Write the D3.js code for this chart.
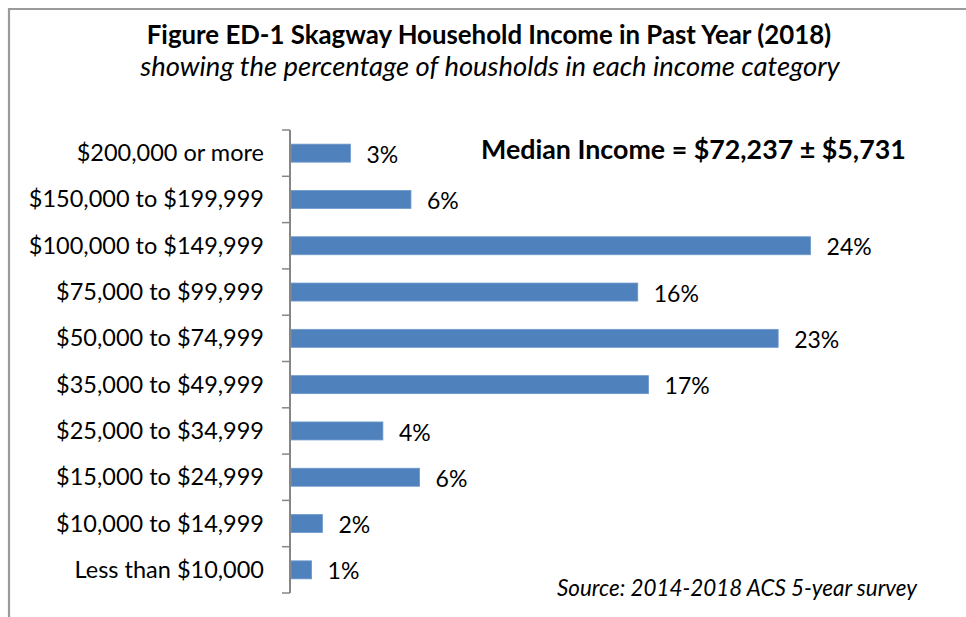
<!DOCTYPE html>
<html><head><meta charset="utf-8">
<script src="https://cdn.jsdelivr.net/npm/d3@7"></script>
<style>
html,body{margin:0;padding:0;background:#fff;}
svg{display:block;font-family:Lato,"Open Sans",sans-serif;}
</style></head>
<body>
<svg id="chart" width="966" height="617"></svg>
<script>
const categories = ["$200,000 or more","$150,000 to $199,999","$100,000 to $149,999","$75,000 to $99,999","$50,000 to $74,999","$35,000 to $49,999","$25,000 to $34,999","$15,000 to $24,999","$10,000 to $14,999","Less than $10,000"];
const values = [2.8, 5.6, 24.1, 16.1, 22.6, 16.6, 4.3, 6.0, 1.5, 1.0];
const labels = ["3%","6%","24%","16%","23%","17%","4%","6%","2%","1%"];
const titleText = "Figure ED-1 Skagway Household Income in Past Year (2018)";
const subtitleText = "showing the percentage of housholds in each income category";
const medianText = "Median Income = $72,237 \u00B1 $5,731";
const sourceText = "Source: 2014-2018 ACS 5-year survey";

const svg = d3.select("#chart");
// outer frame
svg.append("path").attr("d","M9,630 V9 H980").attr("fill","none").attr("stroke","#9a9a9a").attr("stroke-width",2.2);

svg.append("text").attr("x",489).attr("y",44).attr("text-anchor","middle")
  .attr("font-weight","bold").attr("font-size",25.8).attr("fill","#000").text(titleText);
svg.append("text").attr("x",490).attr("y",76).attr("text-anchor","middle")
  .attr("font-style","italic").attr("font-size",27.4).attr("fill","#000").text(subtitleText);

const x0 = 290;
const x = d3.scaleLinear().domain([0, 1]).range([x0, x0 + 21.6]);
const band = d3.scaleBand().domain(categories).range([130, 593]);

// bars
svg.append("g").selectAll("rect").data(values).join("rect")
  .attr("x", x(0)+1)
  .attr("y", (d,i)=> band(categories[i]) + band.bandwidth()/2 - 9)
  .attr("width", d => x(d) - x(0) - 1)
  .attr("height", 18)
  .attr("fill","#4f81bd")
  .attr("stroke","#6d98cc").attr("stroke-width",0.8);

// axis
const axis = svg.append("g").attr("transform",`translate(${x0},0)`);
axis.append("line").attr("x1",0).attr("x2",0).attr("y1",130).attr("y2",593).attr("stroke","#868686").attr("stroke-width",2);
const tickYs = categories.map(c=>band(c)).concat([593]);
axis.selectAll("line.tk").data(tickYs).join("line").attr("class","tk")
  .attr("x1",-8).attr("x2",0).attr("y1",d=>d).attr("y2",d=>d).attr("stroke","#868686").attr("stroke-width",1.5);

// category labels
svg.append("g").selectAll("text").data(categories).join("text")
  .attr("x",264).attr("y",c=>band(c)+band.bandwidth()/2).attr("dy","0.34em")
  .attr("text-anchor","end").attr("font-size",23.5).attr("fill","#000").text(c=>c);

// value labels
svg.append("g").selectAll("text").data(values).join("text")
  .attr("x",d=>x(d)+16).attr("y",(d,i)=>band(categories[i])+band.bandwidth()/2+2).attr("dy","0.33em")
  .attr("font-size",23).attr("fill","#000").text((d,i)=>labels[i]);

svg.append("text").attr("x",481).attr("y",159).attr("font-weight","bold").attr("font-size",26.8).attr("fill","#000").text(medianText);
svg.append("text").attr("x",917).attr("y",596).attr("text-anchor","end").attr("font-style","italic").attr("font-size",22.4).attr("fill","#000").text(sourceText);
</script>
</body></html>
